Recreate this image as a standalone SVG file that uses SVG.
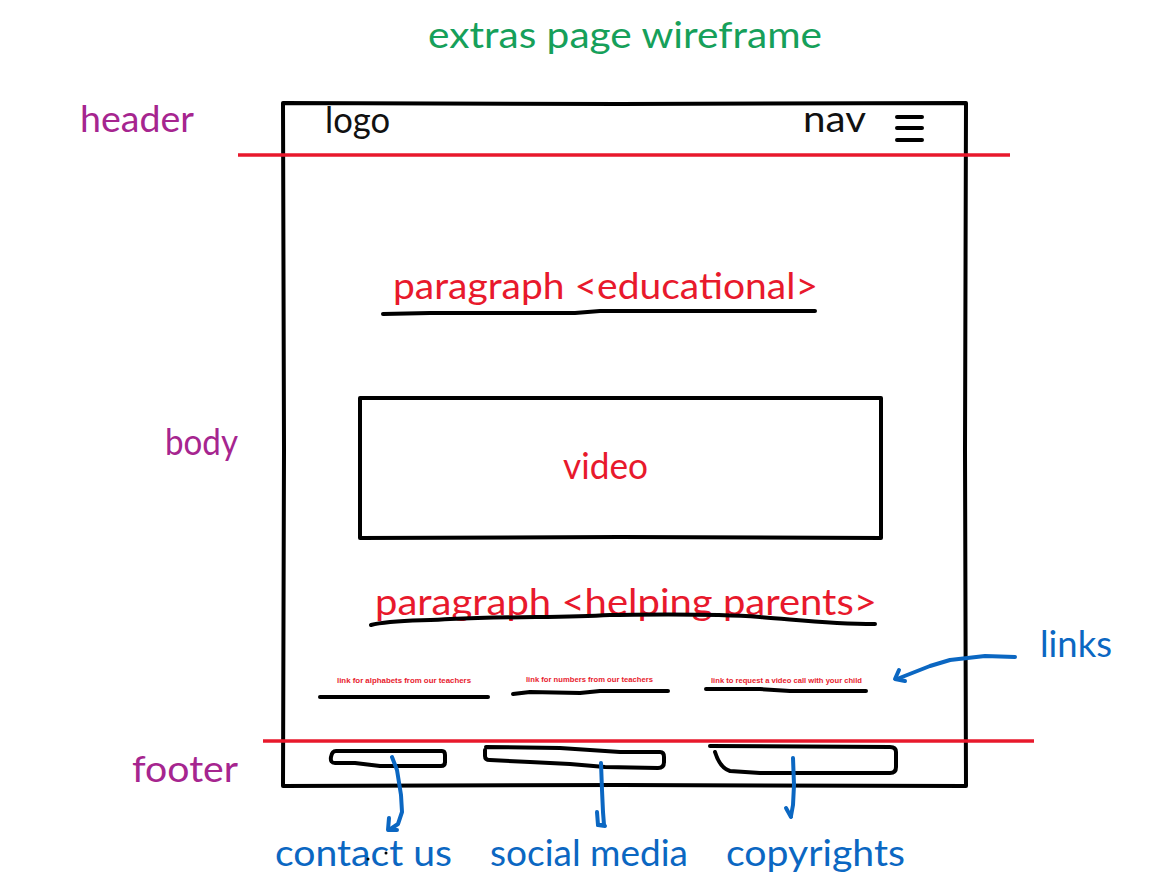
<svg xmlns="http://www.w3.org/2000/svg" width="1151" height="896" viewBox="0 0 1151 896">
  <style>
    .hand { font-family: Lato, "Noto Sans", "DejaVu Sans", sans-serif; font-size: 36px; font-weight: 400; }
    .green { fill: #16a05a; }
    .purple { fill: #a6258f; }
    .red { fill: #e8192c; }
    .black { fill: #111111; }
    .blue { fill: #0b67c2; }
    .tiny { font-family: "Liberation Sans", Arial, sans-serif; font-size: 7.5px; font-weight: bold; fill: #e8192c; }
    .ink { fill: none; stroke: #000; stroke-width: 4; stroke-linecap: round; stroke-linejoin: round; }
    .redline { fill: none; stroke: #e8192c; stroke-width: 3.5; stroke-linecap: butt; }
    .blueline { fill: none; stroke: #0b67c2; stroke-width: 4; stroke-linecap: round; stroke-linejoin: round; }
  </style>
  <rect width="1151" height="896" fill="#ffffff"/>

  <!-- title -->
  <g id="title">
    <text class="hand green" x="428" y="48" textLength="394" lengthAdjust="spacingAndGlyphs" font-size="38">extras page wireframe</text>
  </g>

  <!-- section labels -->
  <g id="label-header"><text class="hand purple" x="80" y="132" textLength="114" lengthAdjust="spacingAndGlyphs" font-size="38">header</text></g>
  <g id="label-body"><text class="hand purple" x="165" y="455" textLength="73" lengthAdjust="spacingAndGlyphs" font-size="38">body</text></g>
  <g id="label-footer"><text class="hand purple" x="132" y="782" textLength="106" lengthAdjust="spacingAndGlyphs" font-size="38">footer</text></g>

  <!-- page frame -->
  <g id="frame">
    <path class="ink" d="M283 103 L620 104 L966 103 M283 103 L284 450 L283 786 M966 103 L965 450 L966 786 M283 786 L620 785 L966 786"/>
  </g>

  <!-- header contents -->
  <g id="header">
    <text class="hand black" x="325" y="133" textLength="65" lengthAdjust="spacingAndGlyphs" font-size="38">logo</text>
    <text class="hand black" x="803" y="132" textLength="63" lengthAdjust="spacingAndGlyphs" font-size="38">nav</text>
    <path class="ink" d="M897 117 L922 117 M897 128 L922 128 M897 140 L922 140"/>
  </g>

  <!-- section dividers -->
  <g id="dividers">
    <path class="redline" d="M238 155 L1010 155"/>
    <path class="redline" d="M263 741 L1034 741"/>
  </g>

  <!-- educational paragraph -->
  <g id="paragraph-educational">
    <text class="hand red" x="393" y="299" textLength="425" lengthAdjust="spacingAndGlyphs">paragraph &lt;educational&gt;</text>
    <path class="ink" d="M383 314 L430 313 L575 313 L600 311 L815 311"/>
  </g>

  <!-- video -->
  <g id="video">
    <path class="ink" d="M360 398 L620 398 L881 398 L881 538 L620 537 L360 538 Z"/>
    <text class="hand red" x="563" y="479" textLength="85" lengthAdjust="spacingAndGlyphs" font-size="38">video</text>
  </g>

  <!-- helping parents paragraph -->
  <g id="paragraph-helping">
    <text class="hand red" x="375" y="615" textLength="502" lengthAdjust="spacingAndGlyphs">paragraph &lt;helping parents&gt;</text>
    <path class="ink" d="M371 625 C390 620 420 621 450 619 C520 616 560 618 610 615 C640 615 700 613 760 617 C800 620 830 624 875 624"/>
  </g>

  <!-- links -->
  <g id="link-alphabets">
    <text class="tiny" x="337" y="683" textLength="134" lengthAdjust="spacingAndGlyphs">link for alphabets from our teachers</text>
    <path class="ink" d="M320 697 L488 697"/>
  </g>
  <g id="link-numbers">
    <text class="tiny" x="526" y="682" textLength="127" lengthAdjust="spacingAndGlyphs">link for numbers from our teachers</text>
    <path class="ink" d="M513 694 L530 692 L580 693 L600 691 L668 691"/>
  </g>
  <g id="link-video-call">
    <text class="tiny" x="711" y="683" textLength="151" lengthAdjust="spacingAndGlyphs">link to request a video call with your child</text>
    <path class="ink" d="M706 689 L760 689 L790 691 L866 691"/>
  </g>
  <g id="label-links">
    <text class="hand blue" x="1040" y="657" textLength="72" lengthAdjust="spacingAndGlyphs" font-size="38">links</text>
  </g>

  <!-- footer placeholders -->
  <g id="footer-contact">
    <path class="ink" d="M336 751 L442 751 Q445 751 445 755 L445 762 Q445 766 441 766 L380 766 L355 763 L335 763 Q330 763 331 757 Q332 751 336 751 Z"/>
  </g>
  <g id="footer-social">
    <path class="ink" d="M486 747 L560 748 L620 752 L660 752 Q664 752 664 757 L664 762 Q664 768 658 768 L605 767 L570 764 L530 762 L490 760 Q485 760 485 756 L485 750"/>
  </g>
  <g id="footer-copyright">
    <path class="ink" d="M710 746 L890 747 Q896 747 896 752 L896 767 Q896 773 890 773 L760 773 L730 771 Q720 768 715 752"/>
  </g>

  <!-- annotation arrows -->
  <g id="connectors">
    <path class="blueline" d="M1015 657 L985 656 L950 660 L930 666 L897 679"/>
    <path class="blueline" d="M899 670 L895 679 L905 681"/>
    <path class="blueline" d="M392 757 L397 770 L401 795 L402 812 L398 824 L389 830"/>
    <path class="blueline" d="M389 818 L388 830 L397 830"/>
    <path class="blueline" d="M601 763 L602 790 L603 812 L604 825 L598 825"/>
    <path class="blueline" d="M597 812 L598 825 L605 826"/>
    <path class="blueline" d="M793 758 L794 785 L793 805 L791 816"/>
    <path class="blueline" d="M786 808 L791 817"/>
  </g>

  <!-- footer annotations -->
  <g id="label-contact"><text class="hand blue" x="275" y="866" textLength="177" lengthAdjust="spacingAndGlyphs" font-size="38">contact us</text>
    <circle cx="368" cy="859" r="1.5" fill="#000"/><circle cx="386" cy="853" r="1.5" fill="#000"/></g>
  <g id="label-social"><text class="hand blue" x="490" y="866" textLength="198" lengthAdjust="spacingAndGlyphs" font-size="38">social media</text></g>
  <g id="label-copyrights"><text class="hand blue" x="726" y="866" textLength="179" lengthAdjust="spacingAndGlyphs" font-size="38">copyrights</text></g>
</svg>
